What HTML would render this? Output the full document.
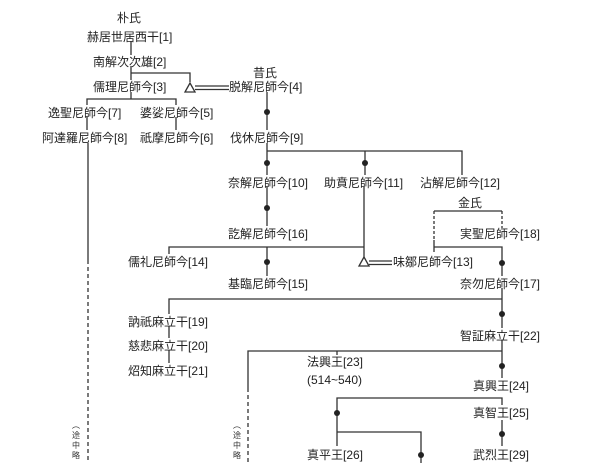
<!DOCTYPE html>
<html><head><meta charset="utf-8"><style>
html,body{margin:0;padding:0;background:#fff;width:600px;height:463px;overflow:hidden;position:relative}
svg text{font-family:"Liberation Sans","Noto Sans CJK JP",sans-serif;font-size:12px;fill:#222}
svg .s{font-family:"Noto Sans CJK JP",sans-serif;font-size:8px;fill:#333}
</style></head><body>
<svg width="600" height="463" viewBox="0 0 600 463" xmlns="http://www.w3.org/2000/svg" style="position:absolute;left:0;top:0">
<g stroke="#333" stroke-width="1.3" fill="none">
<line x1="131" y1="41" x2="131" y2="55"/>
<line x1="131" y1="66" x2="131" y2="80"/>
<polyline points="131,73 190,73 190,82"/>
<line x1="131" y1="92" x2="131" y2="99"/>
<polyline points="87,105 87,99 176,99 176,105"/>
<line x1="87" y1="117" x2="87" y2="130"/>
<line x1="176" y1="117" x2="176" y2="130"/>
<line x1="88" y1="143" x2="88" y2="260"/>
<line x1="88" y1="260" x2="88" y2="463" stroke-dasharray="4,3"/>
<line x1="267" y1="92" x2="267" y2="130"/>
<line x1="267" y1="143" x2="267" y2="175"/>
<polyline points="267,151 462,151 462,175"/>
<line x1="365" y1="151" x2="365" y2="175"/>
<line x1="267" y1="187" x2="267" y2="226"/>
<polyline points="169,254 169,247 364,247"/>
<line x1="267" y1="247" x2="267" y2="276"/>
<line x1="364" y1="187" x2="364" y2="257"/>
<line x1="434" y1="211" x2="502" y2="211"/>
<line x1="434" y1="211" x2="434" y2="240" stroke-dasharray="3,2"/>
<line x1="434" y1="240" x2="434" y2="252"/>
<line x1="502" y1="211" x2="502" y2="228" stroke-dasharray="3,2"/>
<polyline points="434,247 502,247 502,276"/>
<line x1="502" y1="288" x2="502" y2="328"/>
<polyline points="169,314 169,299 502,299"/>
<line x1="169" y1="326" x2="169" y2="338"/>
<line x1="169" y1="350" x2="169" y2="363"/>
<line x1="502" y1="340" x2="502" y2="378"/>
<polyline points="248,388 248,351 502,351"/>
<line x1="248" y1="388" x2="248" y2="463" stroke-dasharray="4,3"/>
<line x1="337" y1="351" x2="337" y2="355"/>
<polyline points="337,446 337,398 502,398 502,405"/>
<polyline points="337,432 421,432 421,463"/>
<line x1="502" y1="420" x2="502" y2="446"/>
<polygon points="190,83 185,92 195,92"/>
<line x1="195" y1="86" x2="229" y2="86"/>
<line x1="195" y1="89.5" x2="229" y2="89.5"/>
<polygon points="364,257 359,266 369,266"/>
<line x1="369" y1="261" x2="392" y2="261"/>
<line x1="369" y1="264.5" x2="392" y2="264.5"/>
</g>
<g fill="#222">
<circle cx="267" cy="112" r="3"/><circle cx="267" cy="163" r="3"/><circle cx="365" cy="163" r="3"/>
<circle cx="267" cy="208" r="3"/><circle cx="267" cy="262" r="3"/><circle cx="502" cy="263" r="3"/>
<circle cx="502" cy="314" r="3"/><circle cx="502" cy="366" r="3"/><circle cx="337" cy="413" r="3"/>
<circle cx="502" cy="434" r="3"/><circle cx="421" cy="455" r="3"/>
</g>
<g>
<text x="117" y="22">朴氏</text>
<text x="87" y="41">赫居世居西干[1]</text>
<text x="93" y="66">南解次次雄[2]</text>
<text x="93" y="91">儒理尼師今[3]</text>
<text x="253" y="77">昔氏</text>
<text x="229" y="91">脱解尼師今[4]</text>
<text x="48" y="117">逸聖尼師今[7]</text>
<text x="140" y="117">婆娑尼師今[5]</text>
<text x="42" y="142">阿達羅尼師今[8]</text>
<text x="140" y="142">祇摩尼師今[6]</text>
<text x="230" y="142">伐休尼師今[9]</text>
<text x="228" y="187">奈解尼師今[10]</text>
<text x="324" y="187">助賁尼師今[11]</text>
<text x="420" y="187">沾解尼師今[12]</text>
<text x="458" y="207">金氏</text>
<text x="460" y="238">実聖尼師今[18]</text>
<text x="228" y="238">訖解尼師今[16]</text>
<text x="128" y="266">儒礼尼師今[14]</text>
<text x="393" y="266">味鄒尼師今[13]</text>
<text x="228" y="288">基臨尼師今[15]</text>
<text x="460" y="288">奈勿尼師今[17]</text>
<text x="128" y="326">訥祇麻立干[19]</text>
<text x="460" y="340">智証麻立干[22]</text>
<text x="128" y="350">慈悲麻立干[20]</text>
<text x="307" y="366">法興王[23]</text>
<text x="307" y="384">(514~540)</text>
<text x="128" y="375">炤知麻立干[21]</text>
<text x="473" y="390">真興王[24]</text>
<text x="473" y="417">真智王[25]</text>
<text x="307" y="459">真平王[26]</text>
<text x="473" y="459">武烈王[29]</text>
</g>
<g class="s">
<text class="s" x="72" y="428">︵</text><text class="s" x="72" y="438">途</text><text class="s" x="72" y="448">中</text><text class="s" x="72" y="458">略</text>
<text class="s" x="233" y="428">︵</text><text class="s" x="233" y="438">途</text><text class="s" x="233" y="448">中</text><text class="s" x="233" y="458">略</text>
</g>
</svg>
</body></html>
